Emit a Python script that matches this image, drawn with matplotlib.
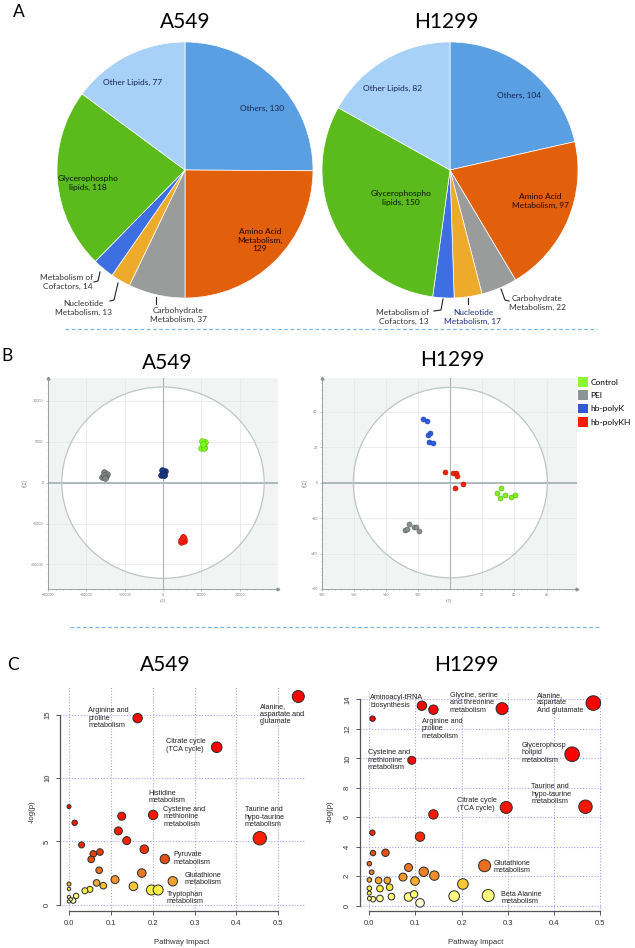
import numpy as np
import matplotlib
matplotlib.use('Agg')
import matplotlib.pyplot as plt
from matplotlib.patches import Ellipse, Patch
from matplotlib.lines import Line2D
from matplotlib.colors import LinearSegmentedColormap, Normalize
from matplotlib.ticker import AutoMinorLocator

plt.rcParams['font.family'] = ['Lato', 'DejaVu Sans']

W, H = 635, 948

# ---------------- A: metabolite classes (pie) ----------------
pie_cats = ['Others', 'Amino Acid Metabolism', 'Carbohydrate Metabolism',
            'Nucleotide Metabolism', 'Metabolism of Cofactors',
            'Glycerophospholipids', 'Other Lipids']
pie_a549 = [130, 129, 37, 13, 14, 118, 77]
pie_h1299 = [104, 97, 22, 17, 13, 150, 82]
pie_colors = ['#5A9FE2', '#E2600C', '#9A9C9B', '#EEAA2A', '#3D6FE3', '#5BBB1C', '#A8D1F7']

# ---------------- B: PCA scores t[1], t[2] ----------------
groups = ['Control', 'PEI', 'hb-polyK', 'hb-polyKH']
a549_t1 = [[9900, 10600, 11000, 10300, 10800, 10400],
           [-15800, -14900, -15400, -14700, -15500, -15100],
           [-500, 300, 500, -300, 0, 300],
           [4700, 5500, 5100, 5600, 4600, 5200]]
a549_t2 = [[4300, 4400, 5000, 5100, 4200, 4700],
           [700, 800, 1300, 1100, 1000, 600],
           [900, 1000, 1400, 1500, 1200, 900],
           [-7200, -7100, -6700, -6900, -7000, -6600]]
h1299_t1 = [[31.5, 29.2, 30.8, 34.2, 37.9, 40.6],
            [-28.0, -25.7, -22.6, -21.1, -19.7, -27.3],
            [-17.0, -14.5, -12.8, -13.9, -13.0, -10.6],
            [-3.1, 1.7, 3.5, 4.3, 2.7, 7.9]]
h1299_t2 = [[-2.8, -6.0, -8.5, -6.8, -7.9, -7.1],
            [-26.7, -23.3, -25.0, -25.2, -27.2, -26.1],
            [35.7, 34.7, 28.2, 26.9, 22.7, 22.5],
            [6.0, 5.6, 5.3, 3.9, -2.8, -0.9]]

# ---------------- C: pathway impact vs -log(p) ----------------
a549_impact = [0.548, 0.164, 0.353, 0.456, 0.201, 0.126, 0.118, 0.138, 0.180, 0.229,
               0.248, 0.174, 0.110, 0.154, 0.197, 0.213, 0.072, 0.074, 0.058, 0.053,
               0.030, 0.0135, 0.0, 0.066, 0.082, 0.050, 0.038, 0.017, 0.010, 0.0,
               0.0, 0.0, 0.0, 0.004]
a549_logp = [16.45, 14.74, 12.44, 5.25, 7.09, 6.99, 5.83, 5.06, 4.38, 3.61,
             1.85, 2.50, 1.98, 1.45, 1.16, 1.16, 2.72, 4.16, 4.01, 3.58,
             4.72, 6.47, 7.75, 1.72, 1.50, 1.21, 1.10, 0.69, 0.32, 1.63,
             1.24, 0.60, 0.26, 0.42]
a549_rad = [6.0, 4.7, 5.3, 6.7, 4.7, 4.0, 4.0, 4.0, 4.3, 4.7,
            4.7, 4.3, 4.0, 4.3, 5.0, 5.0, 3.3, 3.3, 3.3, 3.3,
            3.0, 2.7, 2.0, 3.3, 3.3, 3.0, 3.0, 2.7, 2.7, 2.0,
            1.7, 1.7, 1.7, 1.7]
a549_names = ['Arginine and\nproline\nmetabolism', 'Alanine,\naspartate and\nglutamate',
              'Citrate cycle\n(TCA cycle)', 'Histidine\nmetabolism',
              'Cysteine and\nmethionine\nmetabolism', 'Taurine and\nhypo-taurine\nmetabolism',
              'Pyruvate\nmetabolism', 'Glutathione\nmetabolism', 'Tryptophan\nmetabolism']

h1299_impact = [0.486, 0.288, 0.114, 0.139, 0.007, 0.092, 0.440, 0.297, 0.469, 0.139,
                0.110, 0.0065, 0.008, 0.035, 0.250, 0.085, 0.118, 0.141, 0.073, 0.099,
                0.203, 0.039, 0.020, 0.044, 0.023, 0.0, 0.005, 0.0, 0.0, 0.258,
                0.184, 0.085, 0.097, 0.110, 0.048, 0.023, 0.008, 0.0, 0.0]
h1299_logp = [13.75, 13.37, 13.57, 13.30, 12.69, 9.87, 10.28, 6.67, 6.72, 6.20,
              4.69, 4.96, 3.58, 3.60, 2.72, 2.60, 2.31, 2.05, 1.95, 1.68,
              1.48, 1.72, 1.72, 1.26, 1.17, 2.86, 2.28, 1.76, 1.19, 0.70,
              0.66, 0.60, 0.78, 0.20, 0.62, 0.50, 0.45, 0.86, 0.50]
h1299_rad = [7.3, 6.0, 4.7, 4.7, 2.7, 4.0, 7.3, 6.0, 6.7, 4.7,
             4.7, 2.7, 2.7, 3.7, 6.0, 4.0, 4.7, 4.7, 4.0, 4.3,
             5.3, 3.3, 3.3, 3.3, 3.3, 2.3, 2.3, 2.3, 2.3, 6.0,
             5.3, 4.3, 3.7, 4.3, 3.3, 3.3, 2.7, 2.0, 2.0]
h1299_names = ['Aminoacyl-tRNA\nbiosynthesis', 'Glycine, serine\nand threonine\nmetabolism',
               'Alanine,\naspartate\nAnd glutamate', 'Arginine and\nproline\nmetabolism',
               'Cysteine and\nmethionine\nmetabolism', 'Glycerophosp\nholipid\nmetabolism',
               'Taurine and\nhypo-taurine\nmetabolism', 'Citrate cycle\n(TCA cycle)',
               'Glutathione\nmetabolism', 'Beta Alanine\nmetabolism']

fig = plt.figure(figsize=(W / 100, H / 100), dpi=100)


def box(l, t, r, b):
    return [l / W, 1 - b / H, (r - l) / W, (b - t) / H]


def ftext(x, y, s, **kw):
    fig.text(x / W, 1 - y / H, s, **kw)


def fline(pts, **kw):
    xs = [p[0] / W for p in pts]
    ys = [1 - p[1] / H for p in pts]
    fig.add_artist(Line2D(xs, ys, transform=fig.transFigure, **kw))


# panel letters and titles
ftext(19, 12, 'A', fontsize=12.5, ha='center', va='center')
ftext(7, 356, 'B', fontsize=12.5, ha='center', va='center')
ftext(13, 665, 'C', fontsize=12.5, ha='center', va='center')
for x, y, s in [(185, 22, 'A549'), (446, 22, 'H1299'), (167, 363, 'A549'),
                (452, 360, 'H1299'), (165, 665, 'A549'), (466, 665, 'H1299')]:
    ftext(x, y, s, fontsize=15, ha='center', va='center')

# dashed separators
fline([(65, 329), (597, 329)], color='#7EB6E6', lw=0.9, ls=(0, (3, 2)))
fline([(70, 627), (600, 627)], color='#7EB6E6', lw=0.9, ls=(0, (3, 2)))

# ---------------- pies ----------------
lab_fs = 6.0
for pbox, vals in [((57, 42, 313, 298), pie_a549), ((322, 42, 578, 298), pie_h1299)]:
    ax = fig.add_axes(box(*pbox))
    ax.pie(vals, colors=pie_colors, startangle=90, counterclock=False, radius=1,
           wedgeprops=dict(edgecolor='white', linewidth=0.5))
    ax.set_xlim(-1, 1)
    ax.set_ylim(-1, 1)

# A549 pie labels
ftext(133, 82, 'Other Lipids, 77', fontsize=lab_fs, color='#15224F', ha='center', va='center')
ftext(262, 108, 'Others, 130', fontsize=lab_fs, color='#15224F', ha='center', va='center')
ftext(88, 183, 'Glycerophospho\nlipids, 118', fontsize=lab_fs, color='#0A1500', ha='center', va='center')
ftext(260, 240, 'Amino Acid\nMetabolism,\n129', fontsize=lab_fs, color='#200500', ha='center', va='center')
ftext(93, 282, 'Metabolism of\nCofactors, 14', fontsize=lab_fs, color='#333333', ha='right', va='center')
fline([(100, 272), (98, 281), (94, 282)], color='#222222', lw=0.8)
ftext(112, 308, 'Nucleotide\nMetabolism, 13', fontsize=lab_fs, color='#333333', ha='right', va='center',
      multialignment='center')
fline([(118, 283), (114, 300), (110, 301)], color='#222222', lw=0.8)
ftext(178, 315, 'Carbohydrate\nMetabolism, 37', fontsize=lab_fs, color='#333333', ha='center', va='center')
fline([(156, 297), (156, 304)], color='#222222', lw=0.8)

# H1299 pie labels
ftext(393, 88, 'Other Lipids, 82', fontsize=lab_fs, color='#15224F', ha='center', va='center')
ftext(519, 95, 'Others, 104', fontsize=lab_fs, color='#15224F', ha='center', va='center')
ftext(401, 198, 'Glycerophospho\nlipids, 150', fontsize=lab_fs, color='#0A1500', ha='center', va='center')
ftext(540, 201, 'Amino Acid\nMetabolism, 97', fontsize=lab_fs, color='#200500', ha='center', va='center')
ftext(429, 317, 'Metabolism of\nCofactors, 13', fontsize=lab_fs, color='#333333', ha='right', va='center')
fline([(443, 299), (441, 310), (434, 311)], color='#222222', lw=0.8)
ftext(473, 317, 'Nucleotide\nMetabolism, 17', fontsize=lab_fs, color='#1F2F7F', ha='center', va='center')
fline([(468, 298), (468, 304)], color='#222222', lw=0.8)
ftext(509, 303, 'Carbohydrate\nMetabolism, 22', fontsize=lab_fs, color='#333333', ha='left', va='center',
      multialignment='center')
fline([(501, 289), (505, 300), (509, 301)], color='#222222', lw=0.8)

# ---------------- PCA score plots ----------------
pca_fill_a = ['#7CFC1A', '#7F8585', '#1C3A80', '#F52010']
pca_edge_a = ['#5AC010', '#4F5555', '#0F2050', '#C01000']
pca_fill_h = ['#80F020', '#8A9090', '#2F5CE0', '#F52010']
pca_edge_h = ['#5AB010', '#5A6060', '#1F3CA0', '#C01000']


def draw_pca(pbox, t1, t2, xlim, ylim, xticks, yticks, ell, fills, edges, size):
    ax = fig.add_axes(box(*pbox))
    ax.set_facecolor('#F2F4F4')
    ax.add_patch(Ellipse((0, 0), 2 * ell[0], 2 * ell[1], facecolor='white',
                         edgecolor='none', zorder=0.2))
    ax.add_patch(Ellipse((0, 0), 2 * ell[0], 2 * ell[1], facecolor='none',
                         edgecolor='#BCC6C6', lw=0.9, zorder=1.5))
    ax.set_xticks(xticks)
    ax.set_yticks(yticks)
    ax.set_axisbelow(True)
    ax.grid(True, color='#E0E6E6', lw=0.5)
    ax.axhline(0, color='#AAB4B4', lw=1.3, zorder=1)
    ax.axvline(0, color='#AAB4B4', lw=0.8, zorder=1)
    for i in range(len(t1)):
        ax.scatter(t1[i], t2[i], s=size, c=fills[i], edgecolors=edges[i], linewidths=0.4, zorder=3)
    ax.set_xlim(xlim)
    ax.set_ylim(ylim)
    for sp in ['top', 'right']:
        ax.spines[sp].set_visible(False)
    for sp in ['left', 'bottom']:
        ax.spines[sp].set_color('#8A9696')
        ax.spines[sp].set_linewidth(0.6)
    ax.xaxis.set_minor_locator(AutoMinorLocator(5))
    ax.yaxis.set_minor_locator(AutoMinorLocator(5))
    ax.tick_params(which='both', labelsize=2.6, colors='#8A9696', labelcolor='#6F7A7A',
                   length=1.6, width=0.4, pad=1.5)
    ax.tick_params(which='minor', length=1.0)
    ax.plot(1, 0, marker='>', ms=2, color='#8A9696', transform=ax.transAxes, clip_on=False)
    ax.plot(0, 1, marker='^', ms=2, color='#8A9696', transform=ax.transAxes, clip_on=False)
    ax.set_xlabel('t[1]', fontsize=2.8, color='#6F7A7A', labelpad=1)
    ax.set_ylabel('t[2]', fontsize=3.6, color='#6F7A7A', labelpad=2)
    return ax


draw_pca((48, 378, 278, 589), a549_t1, a549_t2, (-30000, 30000), (-13000, 12800),
         [-30000, -20000, -10000, 0, 10000, 20000], [-10000, -5000, 0, 5000, 10000],
         (26400, 11700), pca_fill_a, pca_edge_a, 17)
draw_pca((322, 378, 577, 589), h1299_t1, h1299_t2, (-80, 79), (-60, 59),
         [-80, -60, -40, -20, 20, 40, 60], [-60, -40, -20, 0, 20, 40],
         (60.5, 53.7), pca_fill_h, pca_edge_h, 13)

legend_colors = ['#88F830', '#8C9494', '#3158D8', '#FF1A00']
handles = [Patch(facecolor=c, edgecolor='none', label=g) for c, g in zip(legend_colors, groups)]
fig.legend(handles=handles, loc='upper left', bbox_to_anchor=(578 / W, 1 - 377 / H),
           frameon=False, fontsize=6.0, handlelength=1.25, handleheight=1.4,
           handletextpad=0.25, labelspacing=0.45, borderpad=0, borderaxespad=0)

# ---------------- pathway bubble plots ----------------
heat = LinearSegmentedColormap.from_list('heat', [
    (0.0, '#FFFFFF'), (0.05, '#FFFF90'), (0.12, '#FFF040'), (0.15, '#F8C030'),
    (0.20, '#F09030'), (0.28, '#E86A20'), (0.38, '#E04A10'), (0.5, '#FF2000'),
    (1.0, '#FF0000')])
heat_norm = Normalize(vmin=0, vmax=10, clip=True)
rfont = ['Liberation Sans', 'DejaVu Sans']


def draw_bubbles(pbox, imp, logp, rad, xlim, ylim, yticks, names, name_pos, xlab_x, ylab_x):
    ax = fig.add_axes(box(*pbox))
    xticks = [0.0, 0.1, 0.2, 0.3, 0.4, 0.5]
    for t in xticks:
        ax.axvline(t, color='#A4A4F0', ls=(0, (1, 1.6)), lw=0.8, zorder=0)
    for t in yticks:
        ax.axhline(t, color='#A4A4F0', ls=(0, (1, 1.6)), lw=0.8, zorder=0)
    sizes = (2 * np.array(rad) * 0.72) ** 2
    ax.scatter(imp, logp, s=sizes, c=heat(heat_norm(np.array(logp))),
               edgecolors='#2A2A2A', linewidths=0.7, zorder=3)
    ax.set_xlim(xlim)
    ax.set_ylim(ylim)
    ax.set_xticks(xticks)
    ax.set_xticklabels(['0.0', '0.1', '0.2', '0.3', '0.4', '0.5'])
    ax.set_yticks(yticks)
    for sp in ['top', 'right']:
        ax.spines[sp].set_visible(False)
    ax.spines['left'].set_bounds(yticks[0], yticks[-1])
    ax.spines['bottom'].set_bounds(0, 0.5)
    for sp in ['left', 'bottom']:
        ax.spines[sp].set_color('#555555')
        ax.spines[sp].set_linewidth(0.9)
    ax.tick_params(labelsize=5.5, colors='#555555', labelcolor='#333333', length=3, width=0.7)
    for lab in ax.get_yticklabels():
        lab.set_rotation(90)
        lab.set_va('center')
    for s, (px, py) in zip(names, name_pos):
        ax.text(px, py, s, fontsize=5.2, ha='left', va='top', color='#222222',
                family=rfont, linespacing=1.1, zorder=4)
    for lab in ax.get_xticklabels() + ax.get_yticklabels():
        lab.set_family(rfont)
    ftext(xlab_x, 942, 'Pathway Impact', fontsize=5.6, ha='center', va='center', color='#333333',
          family=rfont)
    ftext(ylab_x, 812, '-log(p)', fontsize=5.6, ha='center', va='center', rotation=90,
          color='#333333', family=rfont)
    return ax


a549_name_pos = [(0.046, 15.6), (0.456, 15.9), (0.233, 13.16), (0.189, 9.10), (0.225, 7.83),
                 (0.420, 7.78), (0.249, 4.22), (0.277, 2.59), (0.233, 1.11)]
draw_bubbles((60, 687, 305, 911), a549_impact, a549_logp, a549_rad, (-0.0215, 0.564),
             (-0.5, 17.2), [0, 5, 10, 15], a549_names, a549_name_pos, 182, 32)

h1299_name_pos = [(0.0015, 14.34), (0.174, 14.52), (0.364, 14.52), (0.114, 12.74),
                  (-0.0035, 10.62), (0.330, 11.14), (0.351, 8.30), (0.190, 7.35),
                  (0.269, 3.11), (0.286, 1.01)]
draw_bubbles((360, 692, 603, 911), h1299_impact, h1299_logp, h1299_rad, (-0.0203, 0.507),
             (-0.35, 14.5), [0, 2, 4, 6, 8, 10, 12, 14], h1299_names, h1299_name_pos, 476, 330)

fig.savefig('out.png', dpi=100)
